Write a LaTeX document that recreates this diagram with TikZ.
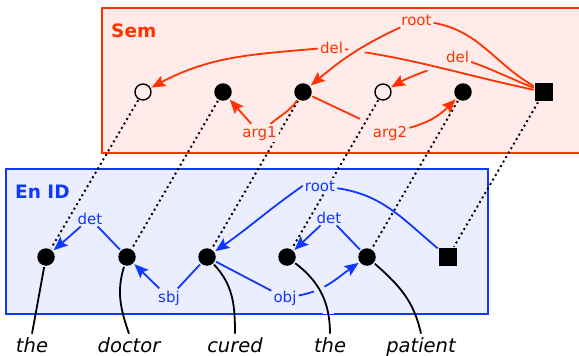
\documentclass[tikz,border=0pt]{standalone}
\usepackage{fontspec}
\setmainfont{DejaVu Sans}
\usetikzlibrary{arrows.meta}
\definecolor{semred}{RGB}{255,51,0}
\definecolor{semfill}{RGB}{255,236,234}
\definecolor{enblue}{RGB}{16,56,255}
\definecolor{enfill}{RGB}{234,238,255}
\begin{document}
\begin{tikzpicture}[x=1pt,y=1pt,
  fullnode/.style={circle,fill=black,inner sep=0pt,minimum size=17.5pt,outer sep=1.5pt},
  opennode/.style={circle,draw=black,line width=1.4pt,inner sep=0pt,minimum size=16pt,outer sep=1.5pt},
  sqnode/.style={rectangle,fill=black,inner sep=0pt,minimum size=17.5pt,outer sep=1.5pt},
  semlab/.style={text=semred,fill=semfill,inner sep=2pt,font=\fontsize{15}{15}\selectfont,anchor=base},
  enlab/.style={text=enblue,fill=enfill,inner sep=2pt,font=\fontsize{15}{15}\selectfont,anchor=base},
  semedge/.style={draw=semred,line width=1.8pt},
  enedge/.style={draw=enblue,line width=1.8pt},
  arrowend/.style={-{Stealth[length=14pt,width=11.5pt,inset=2.5pt]}},
  semhalo/.style={preaction={draw=semfill,line width=11pt,arrows=-}},
  linkline/.style={draw=black,line width=1.9pt,dash pattern=on 2pt off 3.2pt},
  wordline/.style={draw=black,line width=1.8pt},
  wordtext/.style={font=\fontsize{19.5}{20}\selectfont\itshape,anchor=base,inner sep=0pt,outer sep=3.5pt},
  boxtitle/.style={font=\fontsize{18.5}{19}\selectfont\bfseries,anchor=base west,inner sep=0pt}
]
\useasboundingbox (0,0) rectangle (579,-356);
% boxes
\path[fill=semfill,draw=semred,line width=1.8pt] (102,-8) rectangle (600,-153);
\path[fill=enfill,draw=enblue,line width=2pt] (6,-169) rectangle (488,-314);
\node[boxtitle,text=semred] (semtitle) at (111,-37) {Sem};
\node[boxtitle,text=enblue] (entitle) at (15,-198) {En ID};
% semantic nodes
\node[opennode] (s1) at (143,-92) {};
\node[fullnode] (s2) at (223,-92) {};
\node[fullnode] (s3) at (303,-92) {};
\node[opennode] (s4) at (383,-92) {};
\node[fullnode] (s5) at (463,-92) {};
\node[sqnode]   (sq) at (544,-92) {};
% ID nodes
\node[fullnode] (e1) at (46,-257) {};
\node[fullnode] (e2) at (127,-257) {};
\node[fullnode] (e3) at (207,-257) {};
\node[fullnode] (e4) at (287,-257) {};
\node[fullnode] (e5) at (367,-257) {};
\node[sqnode]   (esq) at (448,-257) {};
% words
\node[wordtext] (w1) at (32,-352) {the};
\node[wordtext] (w2) at (129,-352) {doctor};
\node[wordtext] (w3) at (235,-352) {cured};
\node[wordtext] (w4) at (330,-352) {the};
\node[wordtext] (w5) at (421,-352) {patient};
% dotted links
\draw[linkline] (s1) -- (e1);
\draw[linkline] (s2) -- (e2);
\draw[linkline] (s3) -- (e3);
\draw[linkline] (s4) -- (e4);
\draw[linkline] (s5) -- (e5);
\draw[linkline] (sq) -- (esq);
% labels
\node[semlab] (rootS) at (416.5,-25) {root};
\node[semlab] (delA) at (331.5,-53) {del};
\node[semlab] (delB) at (457.5,-62.5) {del};
\node[semlab] (argA) at (259.5,-137) {arg1};
\node[semlab] (argB) at (390,-137) {arg2};
\node[enlab] (rootE) at (320,-191) {root};
\node[enlab] (detA) at (90,-224) {det};
\node[enlab] (detB) at (329,-223) {det};
\node[enlab] (sbjL) at (169,-302) {sbj};
\node[enlab] (objL) at (285,-302) {obj};
% semantic edges
\draw[semedge,arrowend] (delB) to[out=205,in=30] (s4);
\draw[semedge,semhalo] (sq) to[out=168,in=-8] (delA);
\draw[semedge] (sq) to[out=158,in=-20] (delB);
\draw[semedge,arrowend] (delA) to[out=185,in=28] (s1);
\draw[semedge] (sq) to[out=150,in=-10] (rootS);
\draw[semedge,semhalo,arrowend] (rootS) to[out=205,in=40] (s3);
\draw[semedge] (s3) to[out=235,in=40] (argA);
\draw[semedge,arrowend] (argA) -- (s2);
\draw[semedge,shorten >=12pt] (s3) -- (argB);
\draw[semedge,arrowend] (argB) to[out=15,in=225] (s5);
% ID edges
\draw[enedge] (esq) to[out=140,in=-8] (rootE);
\draw[enedge,arrowend] (rootE.west) to[out=215,in=35] (e3);
\draw[enedge] (e2) -- (detA);
\draw[enedge,arrowend] (detA) -- (e1);
\draw[enedge] (e5) -- (detB);
\draw[enedge,arrowend] (detB) -- (e4);
\draw[enedge] (e3) -- (sbjL);
\draw[enedge,arrowend] (sbjL) -- (e2);
\draw[enedge] (e3) -- (objL);
\draw[enedge,arrowend] (objL) to[out=10,in=215] (e5);
% halo of word line crossing obj
\begin{scope}
\clip (7,-170) rectangle (487,-313);
\path[draw=enfill,line width=11pt] (e4) to[out=-37,in=90] (w4.north);
\end{scope}
% word lines
\draw[wordline] (e1) -- (w1.north);
\draw[wordline] (e2) to[out=-107,in=109] (w2.north);
\draw[wordline] (e3) to[out=-47,in=90] (w3.north);
\draw[wordline] (e4) to[out=-37,in=90] (w4.north);
\draw[wordline] (e5) to[out=-41,in=102] (w5.north);
\end{tikzpicture}
\end{document}
